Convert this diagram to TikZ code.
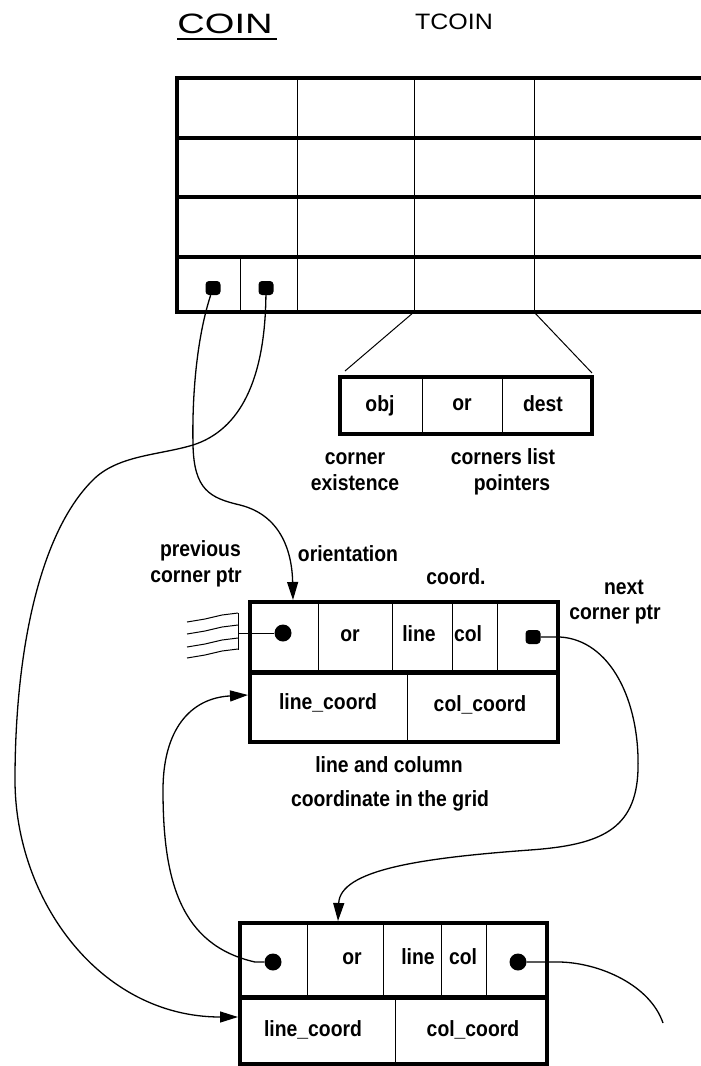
\documentclass[tikz,border=0pt]{standalone}
\usepackage{fontspec}
\setmainfont{Liberation Sans}
\newfontfamily\labfont{Liberation Sans}[FakeStretch=0.88]
\usetikzlibrary{arrows.meta}
\begin{document}
\begin{tikzpicture}[x=1pt,y=-1pt,
  lab/.style={font=\labfont\bfseries\fontsize{22}{24}\selectfont, inner sep=0pt, text height=16pt, text depth=5pt},
  heavy/.style={line width=3.5pt},
  thinline/.style={line width=1pt},
  conn/.style={line width=1.3pt, -{Triangle[length=18pt,width=11pt]}},
  wire/.style={line width=1.3pt},
  sqdot/.style={fill, rounded corners=3.5pt, minimum width=15pt, minimum height=14pt, inner sep=0pt},
  rddot/.style={fill, circle, minimum size=17pt, inner sep=0pt}]
\useasboundingbox (0,0) rectangle (701,1066);
\fill[white] (0,0) rectangle (701,1066);

% titles
\node[anchor=base, inner sep=0pt] (coin) at (225,33) {\scalebox{1.36}[1]{\fontsize{28}{30}\selectfont COIN}};
\draw[line width=2.2pt] (177,39) -- (277,39);
\node[anchor=base, inner sep=0pt] (tcoin) at (454,29) {\scalebox{1.12}[1]{\fontsize{22.3}{24}\selectfont TCOIN}};

% top table TCOIN
\foreach \y in {78,138,197,257,312} \draw[heavy] (175,\y) -- (701,\y);
\draw[line width=4.5pt] (177,76) -- (177,314);
\foreach \x in {297,414,534} \draw[thinline] (\x,78) -- (\x,312);
\draw[thinline] (240,257) -- (240,312);
\node[sqdot] (d1) at (213,288) {};
\node[sqdot] (d2) at (266,288) {};

% zoom fan to small box
\coordinate (fanA) at (414,312);
\coordinate (fanB) at (534,312);
\coordinate (sbA) at (345,371);
\coordinate (sbB) at (592,373);
\draw[thinline] (fanA) -- (sbA);
\draw[thinline] (fanB) -- (sbB);

% small box
\draw[heavy] (340,377) rectangle (592,434);
\draw[thinline] (422,377) -- (422,434);
\draw[thinline] (502,377) -- (502,434);
\node[lab] (obj) at (380,406) {obj};
\node[lab] (sor) at (462,405) {or};
\node[lab] (dest) at (543,406) {dest};
\node[lab] (corner) at (355,459) {corner};
\node[lab] (exist) at (355,485) {existence};
\node[lab] (clist) at (503,459) {corners list};
\node[lab] (ptrs) at (512,485) {pointers};

% middle box
\draw[heavy] (250,602) rectangle (558,742);
\draw[line width=5pt] (250,672) -- (558,672);
\foreach \x in {318,392,452,497} \draw[thinline] (\x,602) -- (\x,672);
\draw[thinline] (407,672) -- (407,742);
\node[lab] (mor) at (350,636) {or};
\node[lab] (mline) at (419,636) {line};
\node[lab] (mcol) at (468,636) {col};
\node[lab] (mlc) at (328,704) {line\_coord};
\node[lab] (mcc) at (480,706) {col\_coord};
\node[rddot] (m1l) at (283,633) {};
\node[sqdot] (m1r) at (533,637) {};
\coordinate (m1top) at (293,600);
\coordinate (m2left) at (248,695);

% labels round the middle box
\node[lab, anchor=east] (prev) at (241,551) {previous};
\node[lab, anchor=east] (prevc) at (242,577) {corner ptr};
\node[lab] (orient) at (348,556) {orientation};
\node[lab] (coord) at (456,579) {coord.};
\node[lab] (next) at (624,589) {next};
\node[lab] (nextc) at (615,614) {corner ptr};
\node[lab] (lac) at (389,767) {line and column};
\node[lab] (cig) at (390,801) {coordinate in the grid};

% nil marker at the previous pointer
\coordinate (nil) at (238,633);
\draw[thinline] (m1l) -- (nil);
\draw[thinline] (238,613) -- (238,650);
\foreach \y in {613,625,638,649}
  \draw[thinline] (238,\y) -- (222,\y+2) -- (205,\y+6) -- (187,\y+9);

% bottom box
\draw[heavy] (240,923) rectangle (547,1064);
\draw[line width=5pt] (240,997) -- (547,997);
\foreach \x in {307,383,441,486} \draw[thinline] (\x,923) -- (\x,997);
\draw[thinline] (395,997) -- (395,1064);
\node[lab] (bor) at (352,959) {or};
\node[lab] (bline) at (418,959) {line};
\node[lab] (bcol) at (463,959) {col};
\node[lab] (blc) at (313,1031) {line\_coord};
\node[lab] (bcc) at (473,1031) {col\_coord};
\node[rddot] (b1l) at (273,962) {};
\node[rddot] (b1r) at (518,962) {};
\coordinate (b1top) at (338,921);
\coordinate (b2left) at (238,1017);
\coordinate (loose) at (663,1023);

% connectors
\draw[conn] (d1) .. controls (196,340) and (192,400) .. (193,445)
  .. controls (194,490) and (210,498) .. (240,505)
  .. controls (280,515) and (292,550) .. (m1top);
\draw[conn] (d2) .. controls (265,380) and (240,430) .. (193,445)
  .. controls (160,455) and (120,455) .. (95,478)
  .. controls (40,530) and (15,650) .. (15,780)
  .. controls (15,900) and (100,1017) .. (b2left);
\draw[conn] (m1r) -- (560,637) .. controls (610,640) and (640,700) .. (638,770)
  .. controls (636,830) and (600,845) .. (530,850)
  .. controls (420,858) and (340,870) .. (b1top);
\draw[conn] (b1l) -- (255,962) .. controls (180,945) and (163,880) .. (163,790)
  .. controls (163,730) and (190,698) .. (m2left);
\draw[wire] (b1r) -- (560,962) .. controls (600,963) and (650,985) .. (loose);
\end{tikzpicture}
\end{document}
